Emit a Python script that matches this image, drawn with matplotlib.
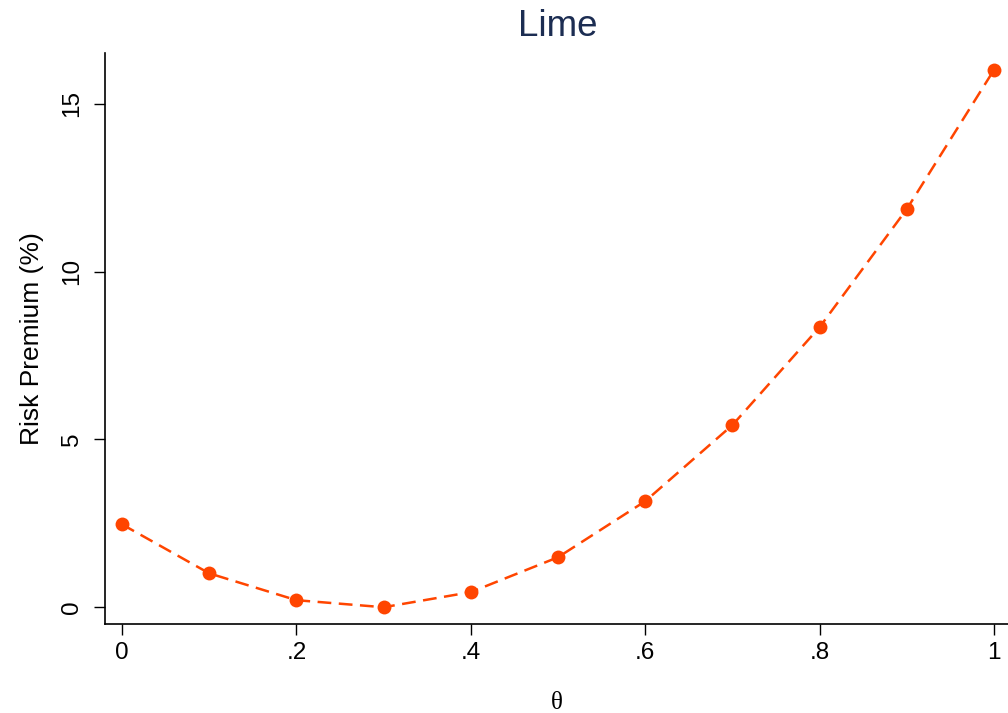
import matplotlib
matplotlib.use("Agg")
import matplotlib.pyplot as plt

theta = [0.0, 0.1, 0.2, 0.3, 0.4, 0.5, 0.6, 0.7, 0.8, 0.9, 1.0]
risk_premium = [2.47, 1.01, 0.21, 0.0, 0.45, 1.49, 3.16, 5.43, 8.35, 11.87, 16.02]
xticks = [0, 0.2, 0.4, 0.6, 0.8, 1.0]
xticklabels = ["0", ".2", ".4", ".6", ".8", "1"]
yticks = [0, 5, 10, 15]
yticklabels = ["0", "5", "10", "15"]

plt.rcParams['font.family'] = ['Liberation Sans', 'DejaVu Sans']

fig = plt.figure(figsize=(10.08, 7.13), dpi=100)
ax = fig.add_axes([105/1008, 89/713, 1 - 105/1008, (624-53)/713])

line, = ax.plot(theta, risk_premium, color='#ff4500', lw=1.8, marker='o',
                markersize=10, markeredgewidth=0, linestyle='--')
line.set_dashes((5.5, 3))

ax.set_xlim(-0.0195, 1.016)
ax.set_ylim(-0.5, 16.52)
ax.set_xticks(xticks)
ax.set_xticklabels(xticklabels)
ax.set_yticks(yticks)
ax.set_yticklabels(yticklabels, rotation=90, va='center')
ax.tick_params(axis='both', length=8, width=1, labelsize=17.5, colors='black')
ax.tick_params(axis='y', pad=8)
ax.tick_params(axis='x', pad=5)

for s in ['top', 'right']:
    ax.spines[s].set_visible(False)
for s in ['left', 'bottom']:
    ax.spines[s].set_linewidth(1.2)

ax.set_ylabel("Risk Premium (%)", fontsize=19, labelpad=12)
ax.set_xlabel("θ", fontsize=18, family=['Liberation Serif', 'DejaVu Serif'], labelpad=20)
fig.text(558/1008, 1 - 26/713, "Lime", fontsize=26.5, color='#1c2d52',
         ha='center', va='center')

fig.savefig("out.png", dpi=100)
